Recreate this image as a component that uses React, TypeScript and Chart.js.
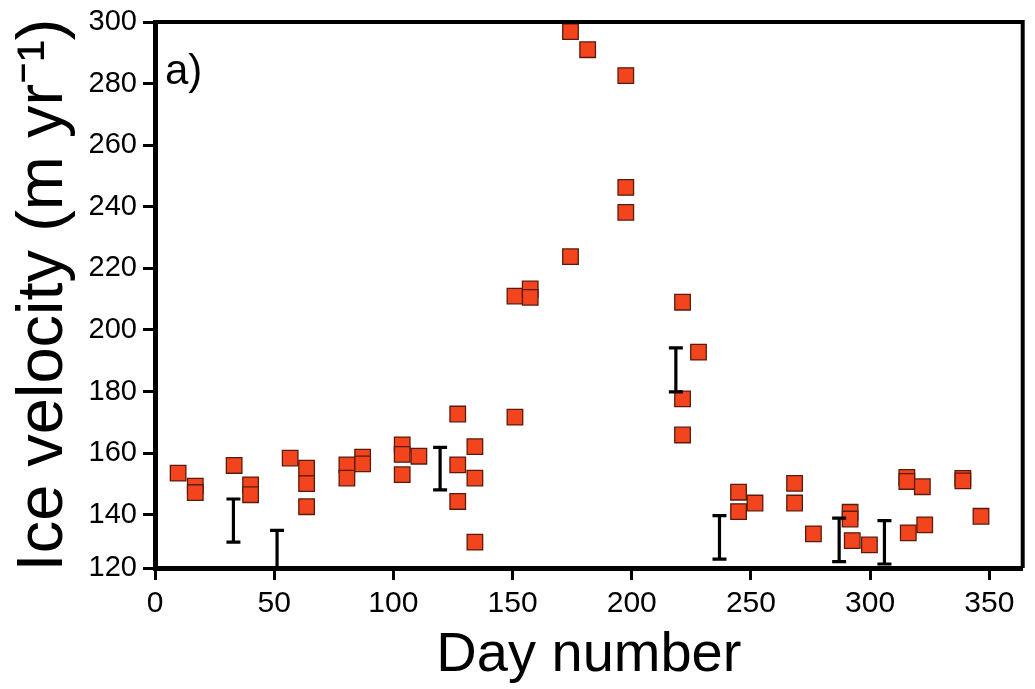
import React, { useEffect, useRef } from 'react';
import { Chart, registerables } from 'chart.js';

Chart.register(...registerables);

// Observations: day number and ice velocity (m/yr)
const days = [
  9.7, 16.9, 16.9, 33.2, 40.1, 40.1, 56.7, 63.6, 63.6, 63.6,
  80.5, 80.5, 87.1, 87.1, 103.7, 103.7, 103.7, 110.7, 127, 127,
  127, 134.2, 134.2, 134.2, 151, 151, 157.4, 157.4, 174.3, 181.5,
  197.5, 197.5, 197.5, 174.3, 221.3, 228, 221.3, 221.3, 244.8, 244.8,
  251.7, 268.3, 268.3, 276.2, 291.6, 291.6, 292.5, 299.7, 315.4, 315.4,
  321.9, 316, 322.9, 338.9, 338.9, 346.5,
];
const velocities = [
  153.5, 149.3, 147.2, 156.0, 149.7, 146.5, 158.4, 155.1, 150.1, 142.6,
  156.2, 151.9, 158.7, 156.5, 162.7, 159.6, 153.0, 159.0, 172.7, 156.2,
  144.3, 162.1, 151.9, 131.1, 171.7, 211.0, 213.3, 210.6, 296.9, 291.0,
  282.6, 246.3, 238.2, 223.8, 209.0, 192.8, 177.6, 165.9, 147.3, 141.0,
  143.8, 150.2, 143.8, 133.8, 140.8, 138.6, 131.6, 130.2, 152.1, 150.8,
  149.1, 134.1, 136.7, 151.8, 151.0, 139.5,
];

// Error bars: day, lower and upper velocity
const errorDays = [32.9, 51.2, 119.6, 218.5, 236.8, 287.0, 306.0];
const errorLows = [131.1, 118.0, 148.1, 179.9, 125.6, 124.8, 124.0];
const errorHighs = [145.1, 134.9, 161.9, 194.2, 139.7, 138.9, 138.1];

// Axes
const xMin = 0;
const xMax = 364;
const xTickValues = [0, 50, 100, 150, 200, 250, 300, 350];
const yAxisMin = 122.7;
const yMax = 300;
const yTickValues = [122.7, 140, 160, 180, 200, 220, 240, 260, 280, 300];
const yTickLabels = ['120', '140', '160', '180', '200', '220', '240', '260', '280', '300'];

const FONT = "'Liberation Sans', Arial, Helvetica, sans-serif";

const errorBarPlugin = {
  id: 'errorBars',
  afterDatasetsDraw(chart: any) {
    const { ctx, chartArea, scales } = chart;
    const x = scales.x;
    const y = scales.y;
    ctx.save();
    ctx.beginPath();
    ctx.rect(chartArea.left, chartArea.top, chartArea.right - chartArea.left, chartArea.bottom - chartArea.top);
    ctx.clip();
    ctx.strokeStyle = '#000';
    ctx.lineWidth = 3.2;
    ctx.lineCap = 'butt';
    errorDays.forEach((d, i) => {
      const px = x.getPixelForValue(d);
      const lo = y.getPixelForValue(errorLows[i]);
      const hi = y.getPixelForValue(errorHighs[i]);
      const cap = 7;
      ctx.beginPath();
      ctx.moveTo(px, lo);
      ctx.lineTo(px, hi);
      ctx.moveTo(px - cap, lo);
      ctx.lineTo(px + cap, lo);
      ctx.moveTo(px - cap, hi);
      ctx.lineTo(px + cap, hi);
      ctx.stroke();
    });
    ctx.restore();
  },
};

const framePlugin = {
  id: 'frame',
  afterDraw(chart: any) {
    const { ctx, chartArea } = chart;
    ctx.save();
    ctx.strokeStyle = '#000';
    ctx.lineWidth = 4;
    ctx.beginPath();
    ctx.moveTo(chartArea.left, chartArea.top);
    ctx.lineTo(chartArea.right, chartArea.top);
    ctx.lineTo(chartArea.right, chartArea.bottom);
    ctx.stroke();
    // panel label
    ctx.fillStyle = '#000';
    ctx.font = `42px ${FONT}`;
    ctx.textBaseline = 'alphabetic';
    ctx.textAlign = 'left';
    ctx.fillText('a)', chartArea.left + 10, chartArea.top + 62);
    ctx.restore();
  },
};

export default function App() {
  const canvasRef = useRef<HTMLCanvasElement | null>(null);

  useEffect(() => {
    document.body.style.margin = '0';
    const canvas = canvasRef.current;
    if (!canvas) return;
    const chart = new Chart(canvas, {
      type: 'scatter',
      data: {
        datasets: [
          {
            label: 'Ice velocity',
            data: days.map((d, i) => ({ x: d, y: velocities[i] })),
            pointStyle: 'rect',
            pointRadius: 11,
            pointHoverRadius: 11,
            backgroundColor: '#F2451D',
            borderColor: '#5a1a0c',
            borderWidth: 1.3,
          },
        ],
      },
      options: {
        responsive: false,
        animation: false,
        layout: { padding: { top: 22, right: 1, left: 0, bottom: 0 } },
        plugins: {
          legend: { display: false },
          tooltip: { enabled: false },
        },
        scales: {
          x: {
            type: 'linear',
            position: 'bottom',
            min: xMin,
            max: xMax,
            afterBuildTicks: (scale: any) => {
              scale.ticks = xTickValues.map((v) => ({ value: v }));
            },
            afterFit: (scale: any) => {
              scale.height = 121;
              scale.paddingLeft = 0;
              scale.paddingRight = 0;
            },
            ticks: {
              color: '#000',
              font: { family: FONT, size: 30 },
              padding: 6,
              maxRotation: 0,
              autoSkip: false,
            },
            grid: {
              display: true,
              drawOnChartArea: false,
              drawTicks: true,
              tickLength: 12,
              tickWidth: 3,
              tickColor: '#000',
            },
            border: { display: true, color: '#000', width: 5 },
            title: {
              display: true,
              text: 'Day number',
              color: '#000',
              font: { family: FONT, size: 56 },
              padding: { top: 0, bottom: 0 },
            },
          },
          y: {
            type: 'linear',
            min: yAxisMin,
            max: yMax,
            afterBuildTicks: (scale: any) => {
              scale.ticks = yTickValues.map((v) => ({ value: v }));
            },
            afterFit: (scale: any) => {
              scale.width = 155;
              scale.paddingTop = 0;
              scale.paddingBottom = 0;
            },
            ticks: {
              color: '#000',
              font: { family: FONT, size: 29 },
              padding: 6,
              autoSkip: false,
              callback: (_v: any, index: number) => yTickLabels[index],
            },
            grid: {
              display: true,
              drawOnChartArea: false,
              drawTicks: true,
              tickLength: 12,
              tickWidth: 3,
              tickColor: '#000',
            },
            border: { display: true, color: '#000', width: 5 },
            title: {
              display: true,
              text: 'Ice velocity (m yr⁻¹)',
              color: '#000',
              font: { family: FONT, size: 65 },
              padding: { top: 5, bottom: 0 },
            },
          },
        },
      },
      plugins: [errorBarPlugin, framePlugin],
    } as any);
    return () => chart.destroy();
  }, []);

  return (
    <div style={{ width: 1035, height: 689, background: '#fff' }}>
      <canvas ref={canvasRef} width={1035} height={689} style={{ display: 'block' }} />
    </div>
  );
}
